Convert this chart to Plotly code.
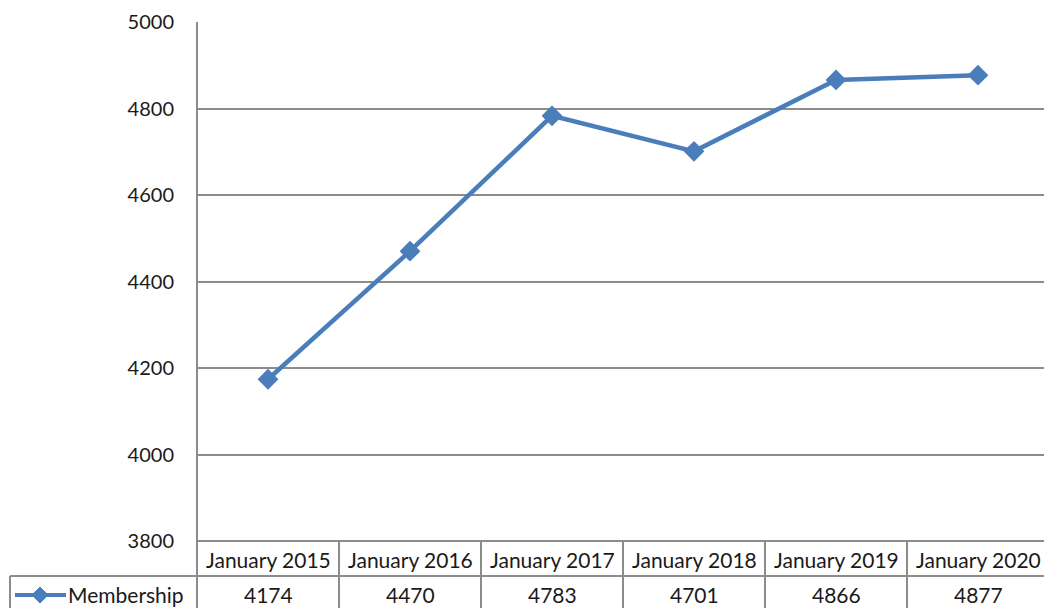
import plotly.graph_objects as go

categories = ["January 2015", "January 2016", "January 2017", "January 2018", "January 2019", "January 2020"]
membership = [4174, 4470, 4783, 4701, 4866, 4877]
series_name = "Membership"
y_ticks = [3800, 4000, 4200, 4400, 4600, 4800, 5000]

W, H = 1044, 608
L, R, T, B = 197, 0, 22, 67
pw, ph = W - L - R, H - T - B
COL_W = 142  # pixel width of one category column

def px_x(px):
    return (px - L) / pw

def px_y(py):
    return (H - B - py) / ph

FONT = "Lato"
FS = 20
FS_TABLE = 21
TXT = "#1a1a1a"
GRID = "#8c8c8c"
BLUE = "#4A7EBB"

n = len(categories)
x_max = -0.5 + pw / COL_W

fig = go.Figure()
fig.add_trace(go.Scatter(
    x=list(range(n)), y=membership, mode="lines+markers",
    line=dict(color=BLUE, width=4.5),
    marker=dict(symbol="diamond", size=16, color=BLUE),
    name=series_name, showlegend=False, cliponaxis=False,
))

shapes = []
# 3800 line / table top
shapes.append(dict(type="line", xref="paper", yref="paper", x0=0, x1=1, y0=0, y1=0,
                   line=dict(color=GRID, width=2)))
# table row separator
shapes.append(dict(type="line", xref="paper", yref="paper", x0=px_x(10), x1=1, y0=px_y(576), y1=px_y(576),
                   line=dict(color=GRID, width=2)))
# column boundaries
for i in range(1, n):
    shapes.append(dict(type="line", xref="x", yref="paper", x0=i - 0.5, x1=i - 0.5, y0=0, y1=px_y(610),
                       line=dict(color=GRID, width=2)))
shapes.append(dict(type="line", xref="paper", yref="paper", x0=0, x1=0, y0=1, y1=px_y(610),
                   line=dict(color=GRID, width=2)))
# left cell border
shapes.append(dict(type="line", xref="paper", yref="paper", x0=px_x(10), x1=px_x(10), y0=px_y(576), y1=px_y(610),
                   line=dict(color=GRID, width=2)))
# legend glyph line
shapes.append(dict(type="line", xref="paper", yref="paper", x0=px_x(15), x1=px_x(66), y0=px_y(595), y1=px_y(595),
                   line=dict(color=BLUE, width=4)))
# legend glyph diamond
cx, cy, r = 40, 595, 8
path = "M {} {} L {} {} L {} {} L {} {} Z".format(
    px_x(cx), px_y(cy - r), px_x(cx + r), px_y(cy), px_x(cx), px_y(cy + r), px_x(cx - r), px_y(cy))
shapes.append(dict(type="path", xref="paper", yref="paper", path=path,
                   fillcolor=BLUE, line=dict(color=BLUE, width=1)))

annotations = []
for i, (c, v) in enumerate(zip(categories, membership)):
    annotations.append(dict(x=i, y=px_y(559), xref="x", yref="paper", text=c, showarrow=False,
                            xanchor="center", yanchor="middle",
                            font=dict(family=FONT, size=FS_TABLE, color=TXT)))
    annotations.append(dict(x=i, y=px_y(594), xref="x", yref="paper", text=str(v), showarrow=False,
                            xanchor="center", yanchor="middle",
                            font=dict(family=FONT, size=FS_TABLE, color=TXT)))
annotations.append(dict(x=px_x(66), y=px_y(594), xref="paper", yref="paper", text=series_name, showarrow=False,
                        xanchor="left", yanchor="middle", font=dict(family=FONT, size=FS_TABLE, color=TXT)))

fig.update_layout(
    width=W, height=H, margin=dict(l=L, r=R, t=T, b=B),
    paper_bgcolor="white", plot_bgcolor="white",
    showlegend=False,
    xaxis=dict(range=[-0.5, x_max], showticklabels=False, showgrid=False, zeroline=False,
               showline=False, ticks=""),
    yaxis=dict(range=[3800, 5000], tickvals=y_ticks, showgrid=True, gridcolor=GRID, gridwidth=2,
               zeroline=False, showline=False, ticks="",
               ticklabelstandoff=22, tickfont=dict(family=FONT, size=FS, color=TXT)),
    shapes=shapes, annotations=annotations,
)
fig.write_html("out.html", config={"displayModeBar": False},
               post_script="document.body.style.margin='0';document.body.style.padding='0';")
